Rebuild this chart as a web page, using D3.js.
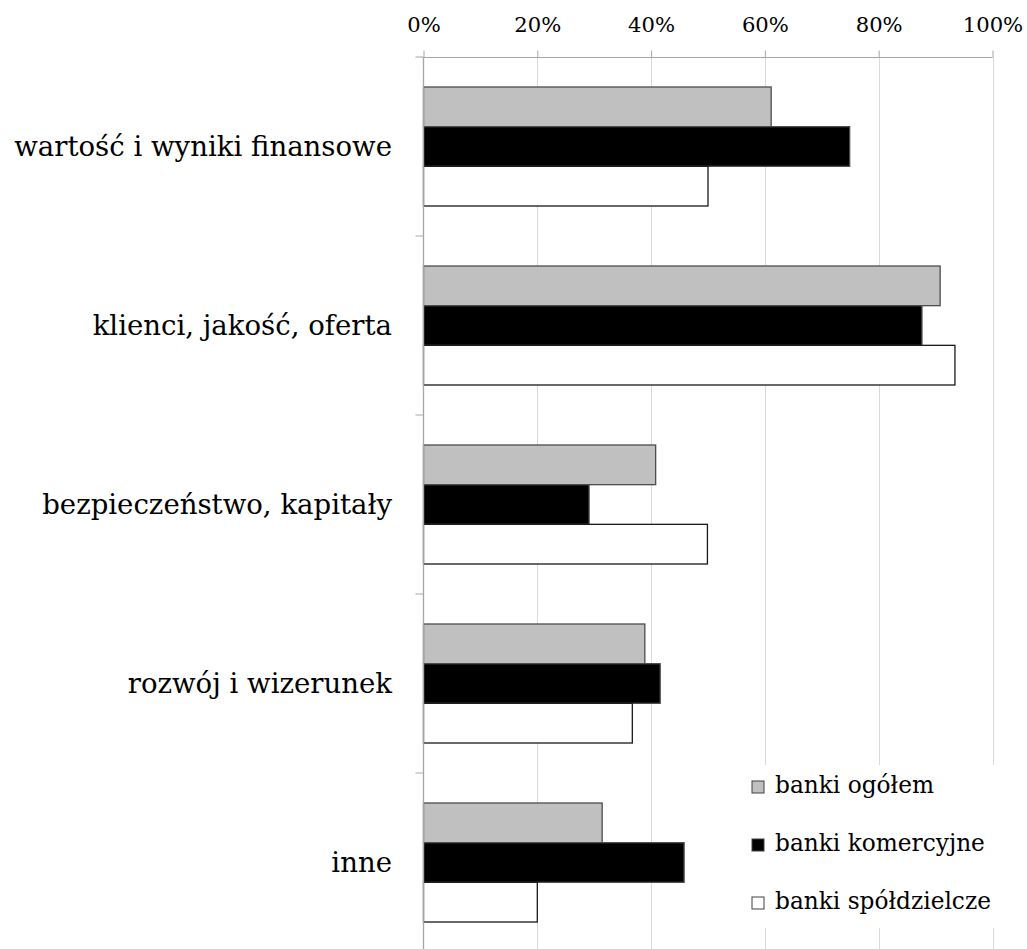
<!DOCTYPE html>
<html>
<head>
<meta charset="utf-8">
<script src="https://cdn.jsdelivr.net/npm/d3@7"></script>
<style>
  html, body { margin: 0; padding: 0; background: #fff; }
  svg { display: block; }
  text { font-family: "DejaVu Serif", "Liberation Serif", serif; fill: #000; }
</style>
</head>
<body>
<svg id="chart" width="1027" height="949"></svg>
<script>
const categories = ["wartość i wyniki finansowe", "klienci, jakość, oferta", "bezpieczeństwo, kapitały", "rozwój i wizerunek", "inne"];
const seriesNames = ["banki ogółem", "banki komercyjne", "banki spółdzielcze"];
const ogolem = [61.1, 90.8, 40.8, 38.9, 31.4];
const komercyjne = [74.9, 87.6, 29.1, 41.6, 45.8];
const spoldzielcze = [50.0, 93.4, 49.9, 36.7, 20.0];
const tickValues = [0, 20, 40, 60, 80, 100];
const seriesFill = ["#c0c0c0", "#000000", "#ffffff"];
const seriesStroke = ["#4d4d4d", "#4d4d4d", "#1a1a1a"];

const seriesValues = [ogolem, komercyjne, spoldzielcze];
const rows = categories.map((c, i) => ({ cat: c, vals: seriesValues.map(s => s[i]) }));

const svg = d3.select("#chart");

// fit a font size so that a sample string has the target width
function fitSize(sample, targetWidth) {
  const t = svg.append("text").attr("font-size", 100).text(sample);
  const w = t.node().getComputedTextLength();
  t.remove();
  return 100 * targetWidth / w;
}
const catSize = fitSize(categories[0], 378);
const tickSize = fitSize("20%", 47);
const legSize = fitSize(seriesNames[1], 210);

const x = d3.scaleLinear().domain([0, 100]).range([423.5, 992.5]);
const y = d3.scaleBand().domain(categories).range([57, 952]).padding(0);
const bw = y.bandwidth();
const y1 = d3.scaleBand().domain(d3.range(seriesNames.length)).range([bw * 30 / 179, bw * 149 / 179]).padding(0);

// gridlines
svg.append("g").selectAll("line").data(tickValues.slice(1)).join("line")
  .attr("x1", d => Math.round(x(d)) + 0.5).attr("x2", d => Math.round(x(d)) + 0.5)
  .attr("y1", 57).attr("y2", 952)
  .attr("stroke", "#d9d9d9").attr("stroke-width", 1);

// top axis
const xAxis = d3.axisTop(x).tickValues(tickValues).tickFormat(d => d + "%").tickSize(7).tickPadding(19);
const gx = svg.append("g").attr("transform", "translate(0,57.5)").call(xAxis);
gx.select(".domain").attr("stroke", "#a6a6a6").attr("d", `M${x(0)},0H${x(100)}`);
gx.selectAll(".tick line").attr("stroke", "#a6a6a6");
gx.selectAll(".tick text").attr("font-size", tickSize).attr("font-family", "DejaVu Serif, serif").attr("fill", "#000");

// bars
const groups = svg.append("g").selectAll("g").data(rows).join("g")
  .attr("transform", d => `translate(0,${y(d.cat)})`);
groups.selectAll("rect").data(d => d.vals.map((v, i) => ({ v, i }))).join("rect")
  .attr("x", x(0))
  .attr("y", d => y1(d.i))
  .attr("width", d => x(d.v) - x(0))
  .attr("height", y1.bandwidth())
  .attr("fill", d => seriesFill[d.i])
  .attr("stroke", d => seriesStroke[d.i])
  .attr("stroke-width", 1.3);

// left axis
const boundaries = categories.map(c => y(c)).concat([y.range()[1]]);
const gl = svg.append("g");
gl.append("line").attr("x1", x(0)).attr("x2", x(0)).attr("y1", 57).attr("y2", 952)
  .attr("stroke", "#a6a6a6").attr("stroke-width", 1.3);
gl.selectAll("line.t").data(boundaries).join("line").attr("class", "t")
  .attr("x1", x(0) - 8).attr("x2", x(0)).attr("y1", d => d).attr("y2", d => d)
  .attr("stroke", "#a6a6a6");
gl.selectAll("text").data(categories).join("text")
  .attr("x", 392).attr("y", d => y(d) + bw / 2)
  .attr("text-anchor", "end").attr("dominant-baseline", "central")
  .attr("font-size", catSize).text(d => d);

// legend
const lg = svg.append("g");
lg.append("rect").attr("x", 742).attr("y", 765).attr("width", 262).attr("height", 163).attr("fill", "#fff");
const items = lg.selectAll("g").data(seriesNames).join("g")
  .attr("transform", (d, i) => `translate(752,${787 + i * 58})`);
items.append("rect").attr("x", 0).attr("y", -6).attr("width", 12).attr("height", 12)
  .attr("fill", (d, i) => seriesFill[i]).attr("stroke", "#404040").attr("stroke-width", 1);
items.append("text").attr("x", 23).attr("y", 6).attr("font-size", legSize).text(d => d);
</script>
</body>
</html>
